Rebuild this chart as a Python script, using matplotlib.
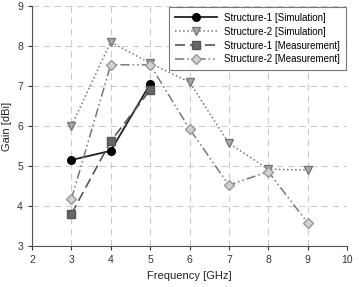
import matplotlib
matplotlib.use("Agg")
import matplotlib.pyplot as plt

freq_s1 = [3, 4, 5]
s1_sim = [5.15, 5.38, 7.05]
s1_meas = [3.8, 5.62, 6.9]
freq_s2 = [3, 4, 5, 6, 7, 8, 9]
s2_sim = [6.0, 8.1, 7.57, 7.1, 5.57, 4.92, 4.9]
s2_meas = [4.17, 7.53, 7.53, 5.93, 4.52, 4.86, 3.58]

plt.rcParams['font.family'] = ['Liberation Sans', 'DejaVu Sans']

fig = plt.figure(figsize=(3.59, 2.87), dpi=100)
ax = fig.add_axes([32 / 359, 1 - 246 / 287, 315 / 359, 240 / 287])

ax.plot(freq_s1, s1_sim, color='#222222', ls='-', lw=1.3, marker='o', ms=5.5,
        mfc='black', mec='black', label='Structure-1 [Simulation]')
ax.plot(freq_s2, s2_sim, color='#777777', ls=':', lw=1.1, marker='v', ms=6,
        mfc='#aaaaaa', mec='#777777', label='Structure-2 [Simulation]')
ax.plot(freq_s1, s1_meas, color='#555555', ls=(0, (6, 3)), lw=1.2, marker='s', ms=5.5,
        mfc='#666666', mec='#555555', label='Structure-1 [Measurement]')
ax.plot(freq_s2, s2_meas, color='#777777', ls=(0, (6, 2, 1, 2, 1, 2)), lw=1.1, marker='D', ms=5.5,
        mfc='#d0d0d0', mec='#999999', label='Structure-2 [Measurement]')

ax.set_xlim(2, 10)
ax.set_ylim(3, 9)
ax.set_xticks(range(2, 11))
ax.set_yticks(range(3, 10))
ax.grid(True, color='#cccccc', ls=(0, (6, 4)), lw=0.8)
for s in ['top', 'right']:
    ax.spines[s].set_visible(False)
for s in ['left', 'bottom']:
    ax.spines[s].set_color('#555555')
ax.tick_params(labelsize=7.5, colors='#333333', length=3, direction='out')
ax.set_xlabel('Frequency [GHz]', fontsize=8, color='#222222')
ax.set_ylabel('Gain [dBi]', fontsize=8, color='#222222')

leg = ax.legend(loc='upper right', fontsize=7, frameon=True, fancybox=False,
                edgecolor='#555555', handlelength=4.3, borderaxespad=0.1,
                labelspacing=0.4, borderpad=0.6)
leg.get_frame().set_linewidth(0.8)

fig.savefig('out.png', dpi=100)
